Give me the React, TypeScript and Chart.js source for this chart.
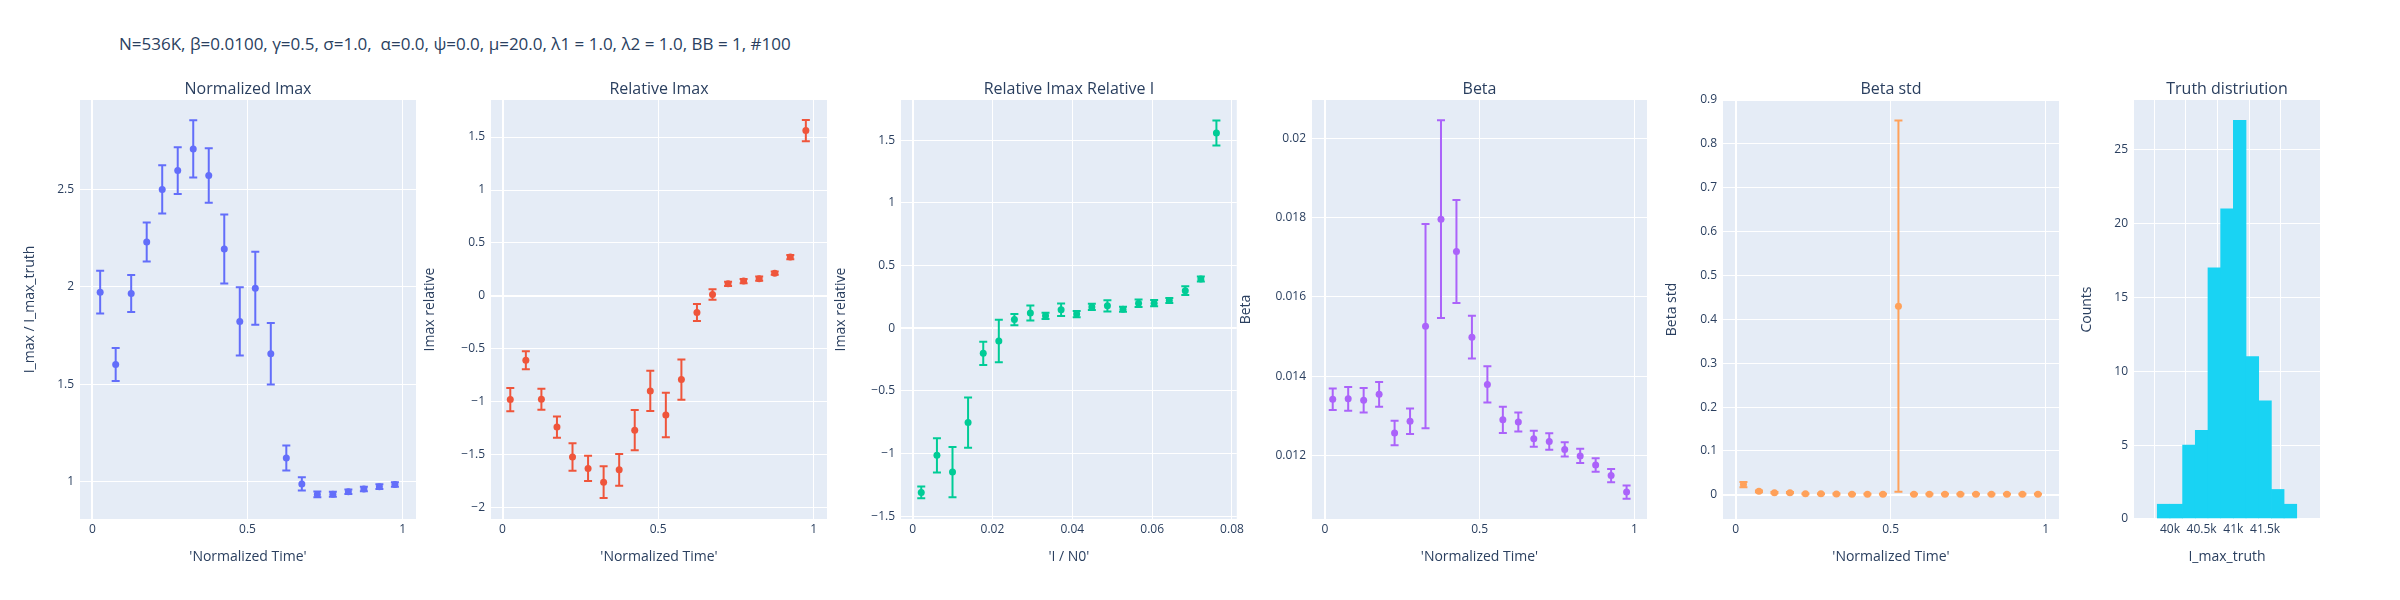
import { useEffect, useRef } from 'react'
import { Chart, ChartConfiguration, registerables } from 'chart.js'

Chart.register(...registerables)

// ---- data ----
const timeX = [0.025, 0.075, 0.125, 0.175, 0.225, 0.275, 0.325, 0.375, 0.425, 0.475, 0.525, 0.575, 0.625, 0.675, 0.725, 0.775, 0.825, 0.875, 0.925, 0.975]

const normImax = [1.973, 1.602, 1.966, 2.23, 2.5, 2.597, 2.708, 2.572, 2.194, 1.823, 1.993, 1.657, 1.122, 0.989, 0.935, 0.936, 0.949, 0.963, 0.975, 0.986]
const normImaxErr = [0.11, 0.085, 0.095, 0.1, 0.124, 0.12, 0.147, 0.14, 0.177, 0.175, 0.187, 0.158, 0.064, 0.034, 0.015, 0.013, 0.012, 0.012, 0.012, 0.012]

const relImax = [-0.979, -0.608, -0.976, -1.239, -1.522, -1.629, -1.759, -1.642, -1.268, -0.898, -1.125, -0.79, -0.156, 0.013, 0.114, 0.14, 0.163, 0.215, 0.367, 1.561]
const relImaxErr = [0.11, 0.085, 0.1, 0.1, 0.13, 0.12, 0.15, 0.15, 0.19, 0.19, 0.21, 0.19, 0.08, 0.05, 0.02, 0.02, 0.02, 0.015, 0.02, 0.1]

const relI = [0.00217, 0.0061, 0.01, 0.0139, 0.0177, 0.0216, 0.0255, 0.0295, 0.0333, 0.0372, 0.0411, 0.0449, 0.0488, 0.0527, 0.0566, 0.0605, 0.0643, 0.0683, 0.0722, 0.0761]
const relIImax = [-1.31, -1.014, -1.148, -0.753, -0.2, -0.102, 0.069, 0.121, 0.099, 0.148, 0.113, 0.17, 0.179, 0.151, 0.2, 0.2, 0.222, 0.3, 0.393, 1.558]
const relIImaxErr = [0.047, 0.137, 0.2, 0.2, 0.093, 0.17, 0.045, 0.06, 0.025, 0.05, 0.025, 0.025, 0.045, 0.02, 0.03, 0.025, 0.02, 0.035, 0.02, 0.1]

const beta = [0.013417, 0.013426, 0.013391, 0.013539, 0.012565, 0.012861, 0.015261, 0.017965, 0.017148, 0.014983, 0.013791, 0.012896, 0.012843, 0.012417, 0.012348, 0.012148, 0.011983, 0.011757, 0.011487, 0.01107]
const betaErr = [0.00027, 0.0003, 0.00031, 0.00031, 0.00031, 0.00032, 0.00258, 0.0025, 0.0013, 0.00054, 0.00046, 0.00033, 0.00024, 0.0002, 0.00021, 0.00018, 0.00018, 0.00017, 0.00017, 0.00017]

const betaStd = [0.0235, 0.008, 0.005, 0.005, 0.0024, 0.0024, 0.002, 0.0016, 0.0016, 0.0016, 0.43, 0.0016, 0.0016, 0.0016, 0.0016, 0.0016, 0.0016, 0.0016, 0.0016, 0.0016]
const betaStdErr = [0.006, 0.002, 0.0015, 0.0015, 0.001, 0.001, 0.001, 0.001, 0.001, 0.001, 0.423, 0.001, 0.001, 0.001, 0.001, 0.001, 0.001, 0.001, 0.001, 0.001]

const histCenters = [39900, 40100, 40300, 40500, 40700, 40900, 41100, 41300, 41500, 41700, 41900]
const histCounts = [1, 1, 5, 6, 17, 21, 27, 11, 8, 2, 1]

const timeTicks = [0, 0.5, 1]
const normTicks = [1, 1.5, 2, 2.5]
const relTicks = [-2, -1.5, -1, -0.5, 0, 0.5, 1, 1.5]
const relITicksX = [0, 0.02, 0.04, 0.06, 0.08]
const relITicksY = [-1.5, -1, -0.5, 0, 0.5, 1, 1.5]
const betaTicks = [0.012, 0.014, 0.016, 0.018, 0.02]
const betaStdTicks = [0, 0.1, 0.2, 0.3, 0.4, 0.5, 0.6, 0.7, 0.8, 0.9]
const histTicksX = [40000, 40500, 41000, 41500]
const histTicksY = [0, 5, 10, 15, 20, 25]

const mainTitle = 'N=536K, β=0.0100, γ=0.5, σ=1.0,  α=0.0, ψ=0.0, μ=20.0, λ1 = 1.0, λ2 = 1.0, BB = 1, #100'

const TEXT = '#2a3f5f'
const FONT = '"Open Sans", "Noto Sans", sans-serif'

const bgPlugin = {
  id: 'plotBg',
  beforeDraw(chart: any) {
    const { ctx, chartArea: a } = chart
    ctx.save()
    ctx.fillStyle = '#E5ECF6'
    ctx.fillRect(a.left, a.top, a.right - a.left, a.bottom - a.top)
    ctx.restore()
  },
  afterDraw(chart: any) {
    const t = chart.options.plugins.plotBg?.title
    if (!t) return
    const { ctx, chartArea: a } = chart
    ctx.save()
    ctx.fillStyle = TEXT
    ctx.font = `16px ${FONT}`
    ctx.textAlign = 'center'
    ctx.textBaseline = 'middle'
    ctx.fillText(t, (a.left + a.right) / 2, 89)
    ctx.restore()
  },
}

const errorPlugin = {
  id: 'errBars',
  beforeDatasetsDraw(chart: any) {
    const opts = chart.options.plugins.errBars
    if (!opts || !opts.errors) return
    const { ctx } = chart
    const xs = chart.scales.x
    const ys = chart.scales.y
    const ds = chart.data.datasets[0].data as { x: number; y: number }[]
    ctx.save()
    ctx.strokeStyle = opts.color
    ctx.lineWidth = 2
    ds.forEach((p, i) => {
      const e = opts.errors[i]
      const px = xs.getPixelForValue(p.x)
      const top = ys.getPixelForValue(p.y + e)
      const bot = ys.getPixelForValue(p.y - e)
      ctx.beginPath()
      ctx.moveTo(px, top)
      ctx.lineTo(px, bot)
      ctx.moveTo(px - 4, top)
      ctx.lineTo(px + 4, top)
      ctx.moveTo(px - 4, bot)
      ctx.lineTo(px + 4, bot)
      ctx.stroke()
    })
    ctx.restore()
  },
}

const fmt = (v: number) => String(v).replace('-', '\u2212')

interface PanelSpec {
  plotLeft: number
  plotRight: number
  axisW: number
  title: string
  xTitle: string
  yTitle: string
  xRange: [number, number]
  yRange: [number, number]
  xTicks: number[]
  yTicks: number[]
  xs: number[]
  ys: number[]
  errors?: number[]
  color: string
  bar?: boolean
  xFormat?: (v: number) => string
}

function makeScale(axis: 'x' | 'y', s: PanelSpec) {
  const isX = axis === 'x'
  const range = isX ? s.xRange : s.yRange
  const ticks = isX ? s.xTicks : s.yTicks
  return {
    type: 'linear' as const,
    min: range[0],
    max: range[1],
    afterBuildTicks: (scale: any) => {
      scale.ticks = ticks.map(v => ({ value: v }))
    },
    afterFit: (scale: any) => {
      if (isX) scale.height = 46
      else scale.width = s.axisW
    },
    border: { display: false },
    grid: {
      color: '#ffffff',
      drawTicks: false,
      lineWidth: (c: any) => (c.tick && c.tick.value === 0 ? 2 : 1),
    },
    ticks: {
      color: TEXT,
      padding: isX ? 3 : 6,
      font: { family: FONT, size: 12 },
      callback: (v: any) => (isX && s.xFormat ? s.xFormat(Number(v)) : fmt(Number(v))),
    },
    title: {
      display: true,
      text: isX ? s.xTitle : s.yTitle,
      color: TEXT,
      padding: 0,
      font: { family: FONT, size: 14 },
    },
  }
}

function Panel({ spec }: { spec: PanelSpec }) {
  const canvasRef = useRef<HTMLCanvasElement>(null)
  const chartRef = useRef<Chart | null>(null)
  const width = spec.plotRight - spec.plotLeft + spec.axisW + 10

  useEffect(() => {
    if (!canvasRef.current) return
    const ctx = canvasRef.current.getContext('2d')
    if (!ctx) return
    if (chartRef.current) chartRef.current.destroy()

    const points = spec.xs.map((x, i) => ({ x, y: spec.ys[i] }))
    const config: ChartConfiguration = {
      type: spec.bar ? 'bar' : 'scatter',
      data: {
        datasets: [
          spec.bar
            ? {
                data: points,
                backgroundColor: spec.color,
                borderWidth: 0,
                barPercentage: 1,
                categoryPercentage: 1,
              }
            : {
                data: points,
                backgroundColor: spec.color,
                borderWidth: 0,
                pointRadius: 3.5,
                showLine: false,
              },
        ] as any,
      },
      options: {
        animation: false,
        responsive: true,
        maintainAspectRatio: false,
        events: [],
        layout: { padding: { top: 100, bottom: 35, left: 0, right: 10 } },
        scales: { x: makeScale('x', spec), y: makeScale('y', spec) } as any,
        plugins: {
          legend: { display: false },
          tooltip: { enabled: false },
          plotBg: { title: spec.title },
          errBars: spec.errors ? { errors: spec.errors, color: spec.color } : undefined,
        } as any,
      },
      plugins: [bgPlugin, errorPlugin],
    }
    chartRef.current = new Chart(ctx, config)
    return () => {
      chartRef.current?.destroy()
      chartRef.current = null
    }
  }, [spec])

  return (
    <div style={{ position: 'absolute', left: spec.plotLeft - spec.axisW, top: 0, width, height: 600 }}>
      <canvas ref={canvasRef} />
    </div>
  )
}

const panels: PanelSpec[] = [
  {
    plotLeft: 80, plotRight: 416, axisW: 58, title: 'Normalized Imax',
    xTitle: "'Normalized Time'", yTitle: 'I_max / I_max_truth',
    xRange: [-0.04, 1.043], yRange: [0.809, 2.959], xTicks: timeTicks, yTicks: normTicks,
    xs: timeX, ys: normImax, errors: normImaxErr, color: '#636EFA',
  },
  {
    plotLeft: 491, plotRight: 827, axisW: 69, title: 'Relative Imax',
    xTitle: "'Normalized Time'", yTitle: 'Imax relative',
    xRange: [-0.037, 1.043], yRange: [-2.107, 1.85], xTicks: timeTicks, yTicks: relTicks,
    xs: timeX, ys: relImax, errors: relImaxErr, color: '#EF553B',
  },
  {
    plotLeft: 901, plotRight: 1237, axisW: 68, title: 'Relative Imax Relative I',
    xTitle: "'I / N0'", yTitle: 'Imax relative',
    xRange: [-0.0029, 0.0812], yRange: [-1.522, 1.821], xTicks: relITicksX, yTicks: relITicksY,
    xs: relI, ys: relIImax, errors: relIImaxErr, color: '#00CC96',
  },
  {
    plotLeft: 1312, plotRight: 1647, axisW: 74, title: 'Beta',
    xTitle: "'Normalized Time'", yTitle: 'Beta',
    xRange: [-0.042, 1.041], yRange: [0.010391, 0.020974], xTicks: timeTicks, yTicks: betaTicks,
    xs: timeX, ys: beta, errors: betaErr, color: '#AB63FA',
  },
  {
    plotLeft: 1723, plotRight: 2059, axisW: 59, title: 'Beta std',
    xTitle: "'Normalized Time'", yTitle: 'Beta std',
    xRange: [-0.041, 1.043], yRange: [-0.055, 0.9], xTicks: timeTicks, yTicks: betaStdTicks,
    xs: timeX, ys: betaStd, errors: betaStdErr, color: '#FFA15A',
  },
  {
    plotLeft: 2134, plotRight: 2320, axisW: 55, title: 'Truth distriution',
    xTitle: 'I_max_truth', yTitle: 'Counts',
    xRange: [39800, 42000], yRange: [0, 28.37], xTicks: histTicksX, yTicks: histTicksY,
    xs: histCenters, ys: histCounts, color: '#19D3F3', bar: true,
    xFormat: (v: number) => `${v / 1000}k`,
  },
]

export default function App() {
  return (
    <div style={{ position: 'absolute', left: 0, top: 0, width: 2400, height: 600, background: '#fff', fontFamily: FONT }}>
      <div style={{ position: 'absolute', left: 119, top: 32, fontSize: 17, color: TEXT, whiteSpace: 'pre' }}>{mainTitle}</div>
      {panels.map((p, i) => (
        <Panel key={i} spec={p} />
      ))}
    </div>
  )
}
